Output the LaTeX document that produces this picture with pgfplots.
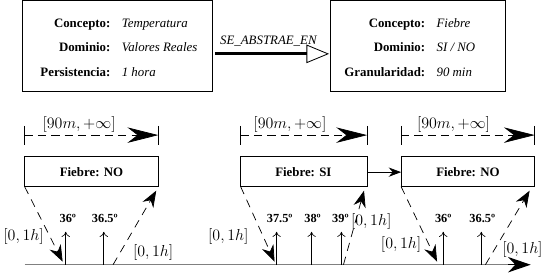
\RequirePackage{fix-cm}
\documentclass[border=0pt]{standalone}
\usepackage{fontspec}
\setmainfont{Liberation Serif}
\usepackage{pgfplots}
\pgfplotsset{compat=1.18}
\usetikzlibrary{arrows.meta}
\newcommand{\lbl}[1]{{\fontsize{12.5}{14}\selectfont\bfseries #1}}
\newcommand{\val}[1]{{\fontsize{12.5}{14}\selectfont\itshape #1}}
\newcommand{\mth}[1]{{\fontsize{15.5}{18}\selectfont $#1$}}
\newcommand{\temp}[1]{{\fontsize{12}{13}\selectfont\bfseries #1}}
\begin{document}
\begin{tikzpicture}
\begin{axis}[width=546pt,height=283pt,scale only axis,
  xmin=0,xmax=546,ymin=0,ymax=283,y dir=reverse,hide axis,clip=false]
% --- top boxes
\addplot[black,line width=0.7pt,line cap=rect] coordinates {(33,8)(218,8)(218,96)(33,96)(33,8)};
\addplot[black,line width=0.7pt,line cap=rect] coordinates {(332,8)(502,8)(502,96)(332,96)(332,8)};
\node[anchor=base east] at (axis cs:122,34) {\lbl{Concepto:}};
\node[anchor=base west] at (axis cs:126,34) {\val{Temperatura}};
\node[anchor=base east] at (axis cs:122,58) {\lbl{Dominio:}};
\node[anchor=base west] at (axis cs:126,58) {\val{Valores Reales}};
\node[anchor=base east] at (axis cs:122,82) {\lbl{Persistencia:}};
\node[anchor=base west] at (axis cs:126,82) {\val{1 hora}};
\node[anchor=base east] at (axis cs:428,34) {\lbl{Concepto:}};
\node[anchor=base west] at (axis cs:432,34) {\val{Fiebre}};
\node[anchor=base east] at (axis cs:428,58) {\lbl{Dominio:}};
\node[anchor=base west] at (axis cs:432,58) {\val{SI / NO}};
\node[anchor=base east] at (axis cs:428,82) {\lbl{Granularidad:}};
\node[anchor=base west] at (axis cs:432,82) {\val{90 min}};
% abstraction arrow
\addplot[black,line width=3.2pt,-{Triangle[open,length=22pt,width=18pt,line width=0.8pt]}] coordinates {(220,60)(331,60)};
\node[anchor=base] at (axis cs:272,51) {\val{SE\_ABSTRAE\_EN}};
% --- Fiebre boxes
\addplot[black,line width=0.7pt,line cap=rect] coordinates {(35,160)(165,160)(165,189)(35,189)(35,160)};
\addplot[black,line width=0.7pt,line cap=rect] coordinates {(245,160)(368,160)(368,189)(245,189)(245,160)};
\addplot[black,line width=0.7pt,line cap=rect] coordinates {(401,160)(531,160)(531,189)(401,189)(401,160)};
\node at (axis cs:100,175) {\lbl{Fiebre: NO}};
\node at (axis cs:306,175) {\lbl{Fiebre: SI}};
\node at (axis cs:466,175) {\lbl{Fiebre: NO}};
\addplot[black,line width=0.7pt,-{Stealth[length=12pt,width=9pt]}] coordinates {(368,175)(401,175)};
% brackets [90m,+inf]
\addplot[black,line width=0.7pt] coordinates {(35,130)(35,149)};
\addplot[black,line width=0.7pt] coordinates {(165,130)(165,149)};
\addplot[black,line width=0.7pt,dash pattern=on 8pt off 5pt,-{Stealth[length=30pt,width=15pt]}] coordinates {(35,139)(165,139)};
\addplot[black,line width=0.7pt] coordinates {(245,130)(245,149)};
\addplot[black,line width=0.7pt] coordinates {(368,130)(368,149)};
\addplot[black,line width=0.7pt,dash pattern=on 8pt off 5pt,-{Stealth[length=30pt,width=15pt]}] coordinates {(245,139)(368,139)};
\addplot[black,line width=0.7pt] coordinates {(401,130)(401,149)};
\addplot[black,line width=0.7pt] coordinates {(531,130)(531,149)};
\addplot[black,line width=0.7pt,dash pattern=on 8pt off 5pt,-{Stealth[length=30pt,width=15pt]}] coordinates {(401,139)(531,139)};
\node[anchor=base] at (axis cs:88,133) {\mth{[90m,+\infty]}};
\node[anchor=base] at (axis cs:293,133) {\mth{[90m,+\infty]}};
\node[anchor=base] at (axis cs:452,133) {\mth{[90m,+\infty]}};
% time axis
\addplot[gray,line width=1.3pt] coordinates {(35,265)(510,265)};
\addplot[black,line width=1pt,-{Stealth[length=22pt,width=15pt]}] coordinates {(505,265)(527,265)};
% measurements
\addplot[black,line width=0.6pt,-{To[length=5pt,width=8pt]}] coordinates {(75,265)(75,233)};
\addplot[black,line width=0.6pt,-{To[length=5pt,width=8pt]}] coordinates {(112,265)(112,233)};
\addplot[black,line width=0.6pt,-{To[length=5pt,width=8pt]}] coordinates {(280,265)(280,233)};
\addplot[black,line width=0.6pt,-{To[length=5pt,width=8pt]}] coordinates {(314,265)(314,233)};
\addplot[black,line width=0.6pt,-{To[length=5pt,width=8pt]}] coordinates {(343,265)(343,233)};
\addplot[black,line width=0.6pt,-{To[length=5pt,width=8pt]}] coordinates {(442,265)(442,233)};
\addplot[black,line width=0.6pt,-{To[length=5pt,width=8pt]}] coordinates {(479,265)(479,233)};
\node at (axis cs:77,220) {\temp{36º}};
\node at (axis cs:113,220) {\temp{36.5º}};
\node at (axis cs:283,220) {\temp{37.5º}};
\node at (axis cs:315,220) {\temp{38º}};
\node at (axis cs:342,220) {\temp{39º}};
\node at (axis cs:442,220) {\temp{36º}};
\node at (axis cs:480,220) {\temp{36.5º}};
% dashed intervals
\addplot[black,line width=0.7pt,dash pattern=on 8pt off 6pt,-{Stealth[length=16pt,width=12pt]}] coordinates {(35,189)(72,262)};
\addplot[black,line width=0.7pt,dash pattern=on 8pt off 6pt,-{Stealth[length=16pt,width=12pt]}] coordinates {(121,265)(163,193)};
\addplot[black,line width=0.7pt,dash pattern=on 8pt off 6pt,-{Stealth[length=16pt,width=12pt]}] coordinates {(245,189)(278,262)};
\addplot[black,line width=0.7pt,dash pattern=on 8pt off 6pt,-{Stealth[length=16pt,width=12pt]}] coordinates {(345,265)(365,193)};
\addplot[black,line width=0.7pt,dash pattern=on 8pt off 6pt,-{Stealth[length=16pt,width=12pt]}] coordinates {(401,189)(436,262)};
\addplot[black,line width=0.7pt,dash pattern=on 8pt off 6pt,-{Stealth[length=16pt,width=12pt]}] coordinates {(483,265)(526,193)};
\node at (axis cs:34,238) {\mth{[0,1h]}};
\node at (axis cs:160,253) {\mth{[0,1h]}};
\node at (axis cs:233,238) {\mth{[0,1h]}};
\node at (axis cs:372,223) {\mth{[0,1h]}};
\node at (axis cs:401,245) {\mth{[0,1h]}};
\node at (axis cs:519,250) {\mth{[0,1h]}};
\end{axis}
\end{tikzpicture}
\end{document}
